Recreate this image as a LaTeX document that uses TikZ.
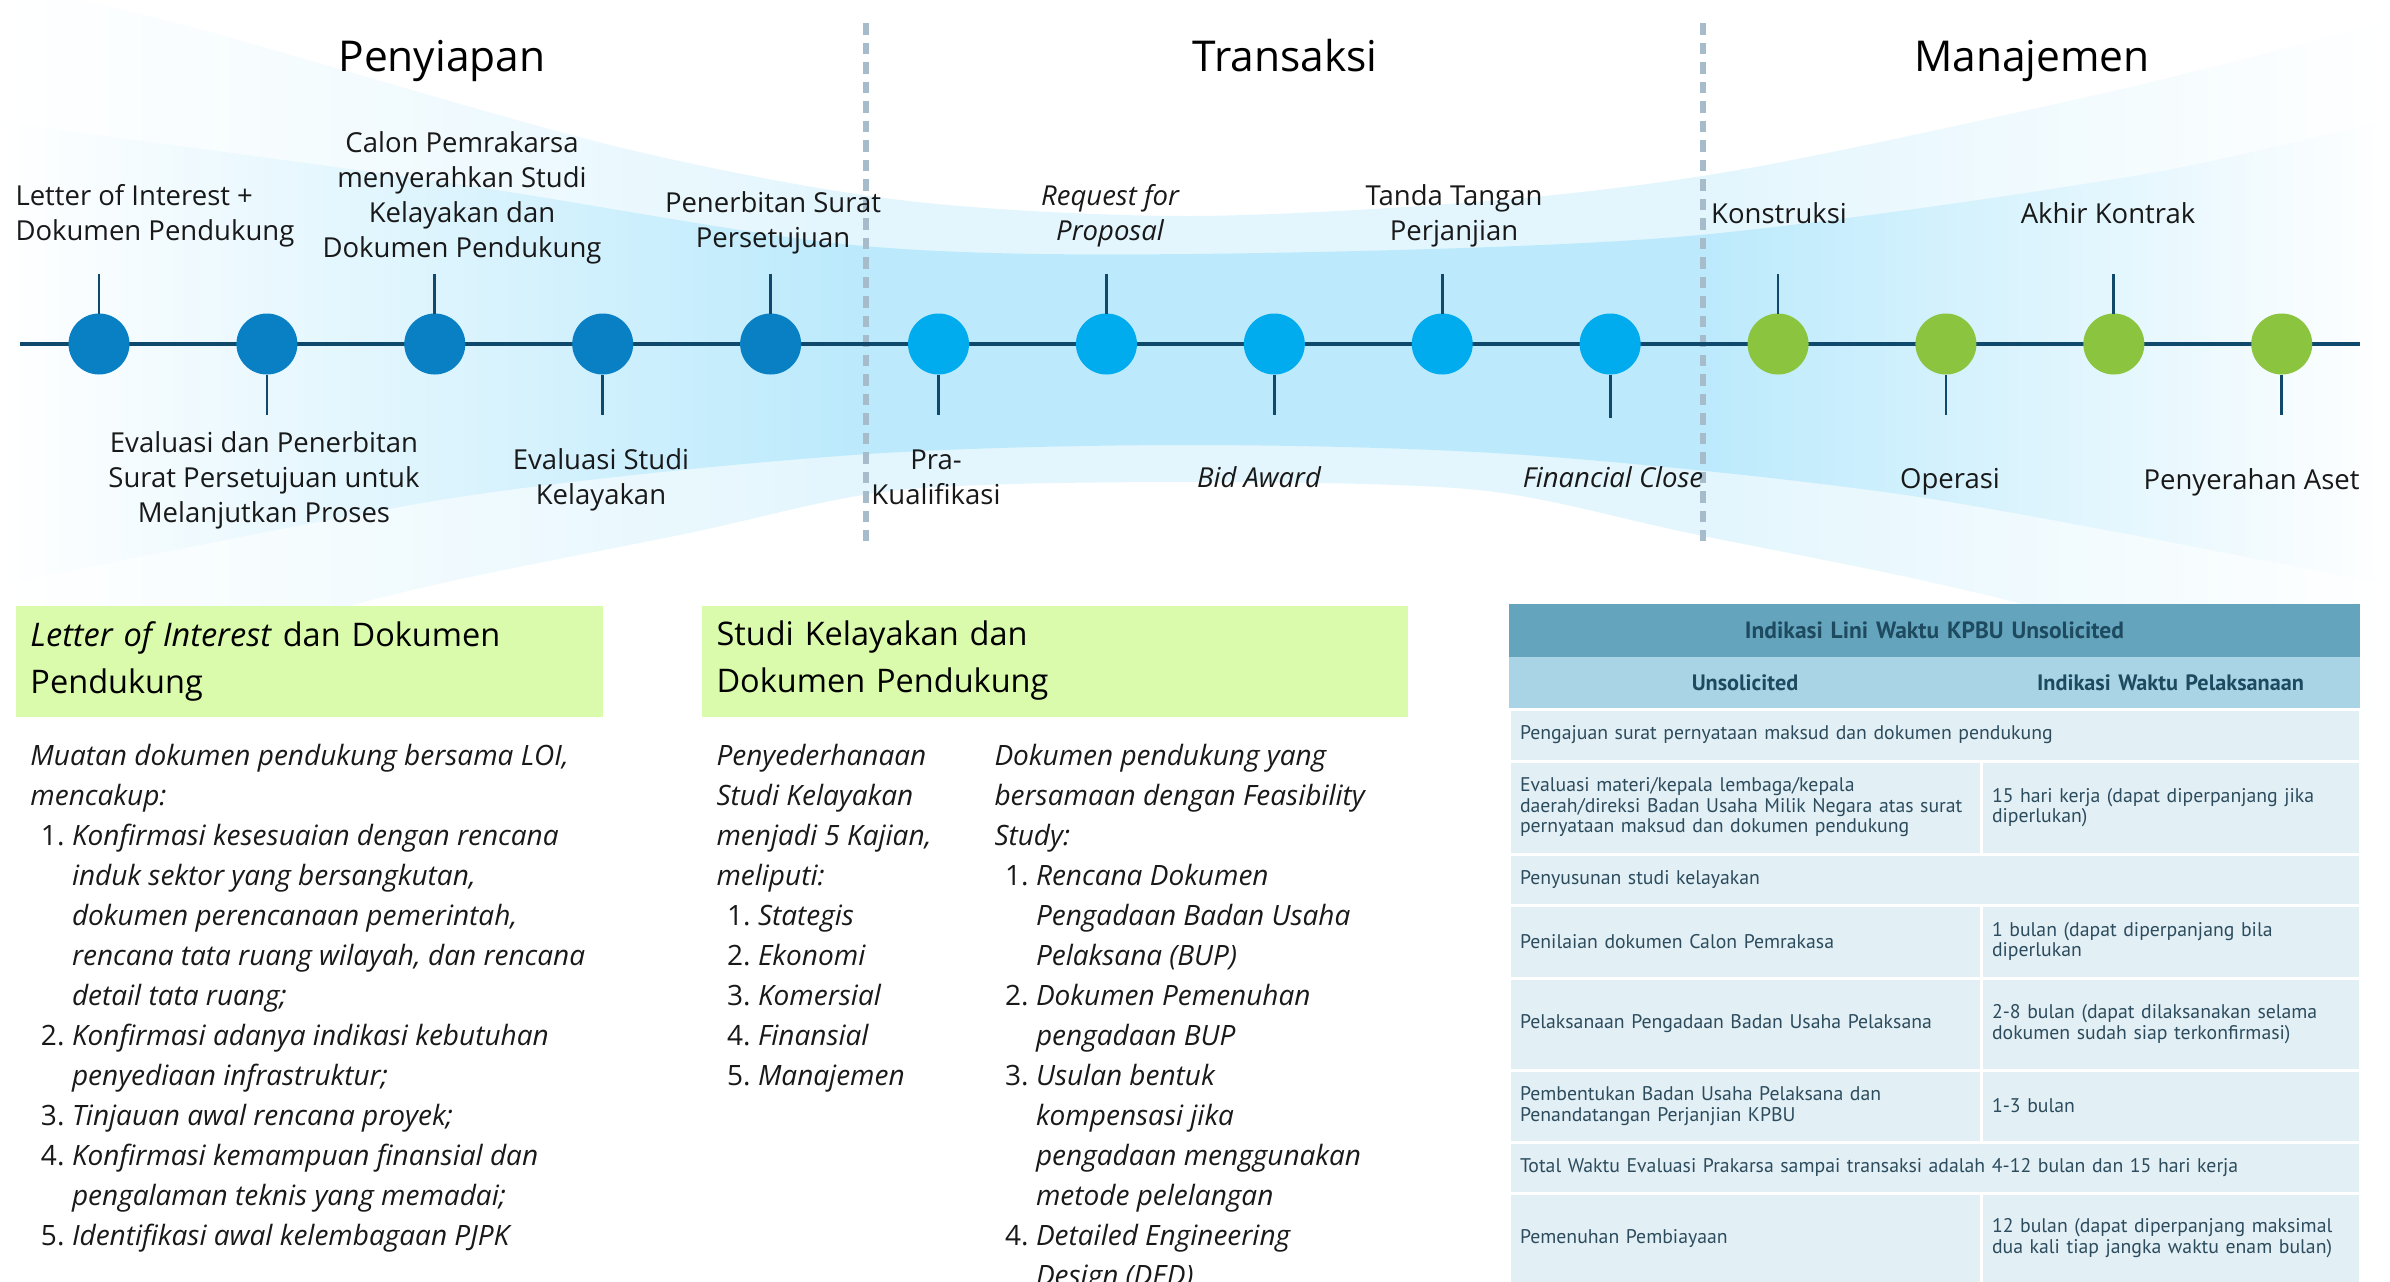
\documentclass[tikz,border=0pt]{standalone}
\usepackage{fontspec}
\setmainfont{Open Sans}
\newfontfamily\tabfont{PT Sans}
\usetikzlibrary{positioning}

\definecolor{tlnavy}{HTML}{0F4A6D}
\definecolor{prepblue}{HTML}{0A80C4}
\definecolor{transblue}{HTML}{00ACEE}
\definecolor{mgmtgreen}{HTML}{8BC53F}
\definecolor{dashgrey}{HTML}{A6BCCB}
\definecolor{bandblue}{HTML}{BCEAFC}
\definecolor{bandpale}{HTML}{E3F6FD}
\definecolor{headgreen}{HTML}{D9FBAB}
\definecolor{tabtitle}{HTML}{65A4BD}
\definecolor{tabhead}{HTML}{A8D4E6}
\definecolor{tabrow}{HTML}{E2EFF5}
\definecolor{tabtext}{HTML}{2C4C5D}
\definecolor{tabdark}{HTML}{1D4A5F}

\pgfdeclarehorizontalshading{bandin}{100bp}{color(0bp)=(white); color(25bp)=(white); color(42.8bp)=(bandblue); color(60.7bp)=(bandblue); color(75bp)=(white); color(100bp)=(white)}
\pgfdeclarehorizontalshading{bandout}{100bp}{color(0bp)=(white); color(25bp)=(white); color(42.8bp)=(bandpale); color(60.7bp)=(bandpale); color(75bp)=(white); color(100bp)=(white)}

\newcommand{\lnum}[1]{\makebox[16.6pt][l]{\hspace{4.2pt}\upshape #1}}

\tikzset{
  mstone/.style = {circle, inner sep=0pt, outer sep=0pt, minimum size=24.4pt},
  msprep/.style = {mstone, fill=prepblue},
  mstrans/.style = {mstone, fill=transblue},
  msmgmt/.style = {mstone, fill=mgmtgreen},
  tline/.style = {draw=tlnavy, line width=1.6pt},
  stem/.style = {draw=tlnavy, line width=1.1pt},
  phase/.style = {inner sep=0pt, anchor=base, font=\fontsize{17}{20}\selectfont},
  lbl/.style = {align=center, inner sep=0pt, text=black!90, font=\fontsize{11}{14}\selectfont},
  divider/.style = {draw=dashgrey, line width=2.4pt, dash pattern=on 4.6pt off 3.2pt},
  hdbox/.style = {anchor=north west, fill=headgreen, minimum height=44.4pt, inner xsep=6pt, inner ysep=0pt, align=left, font=\fontsize{13}{18.8}\selectfont},
  bodytxt/.style = {anchor=north west, inner sep=0pt, align=left, text=black!90, font=\fontsize{11.2}{16}\selectfont\itshape},
  tabbase/.style = {anchor=north west, outer sep=0pt, inner xsep=4.4pt, inner ysep=0pt, font=\tabfont\fontsize{7.9}{8.2}\selectfont, text=tabtext},
  ttitle/.style = {tabbase, fill=tabtitle, text width=331.6pt, align=center, minimum height=21.2pt, font=\tabfont\bfseries\fontsize{9.4}{10}\selectfont, text=tabdark},
  thead/.style = {tabbase, fill=tabhead, align=center, minimum height=20.8pt, font=\tabfont\bfseries\fontsize{8.9}{10}\selectfont, text=tabdark},
  tcell/.style = {tabbase, fill=tabrow, draw=white, line width=1.2pt, align=left},
  tleft/.style = {tcell, text width=180pt},
  tright/.style = {tcell, text width=142.8pt},
  tspan/.style = {tcell, text width=331.6pt},
}

\begin{document}
\begin{tikzpicture}[x=0.4pt, y=-0.4pt, node distance=42.76pt]
\path[use as bounding box, fill=white] (0,0) rectangle (2390,1281);

% hourglass band behind the timeline
\begin{scope}
\clip (0,0) rectangle (2390,1281);
\shade[shading=bandout] plot[smooth] coordinates {(0,-15) (184,25) (610,145) (900,200) (1189,216) (1500,200) (1750,168) (2122,89) (2390,21)}
  -- plot[smooth] coordinates {(2390,720) (2018,603) (1689,533) (1478,490) (1189,482) (900,490) (689,533) (360,603) (0,720)} -- cycle;
\shade[shading=bandin] plot[smooth] coordinates {(0,122) (457,184) (853,245) (1189,254) (1677,237) (2134,176) (2390,119)}
  -- plot[smooth] coordinates {(2390,585) (1919,497) (1525,455) (1189,445) (853,455) (459,497) (0,585)} -- cycle;
\end{scope}

% phase dividers and titles
\coordinate (d1a) at (866,23);
\coordinate (d1b) at (866,541);
\coordinate (d2a) at (1703,23);
\coordinate (d2b) at (1703,541);
\draw[divider] (d1a) -- (d1b);
\draw[divider] (d2a) -- (d2b);
\node[phase] (ph1) at (442,71) {Penyiapan};
\node[phase] (ph2) at (1285,71) {Transaksi};
\node[phase] (ph3) at (2032,71) {Manajemen};

% timeline
\coordinate (tl0) at (20,344);
\coordinate (tl1) at (2360,344);
\draw[tline] (tl0) -- (tl1);

\node[msprep] (m1) at (99,344) {};
\node[msprep, right=of m1] (m2) {};
\node[msprep, right=of m2] (m3) {};
\node[msprep, right=of m3] (m4) {};
\node[msprep, right=of m4] (m5) {};
\node[mstrans, right=of m5] (m6) {};
\node[mstrans, right=of m6] (m7) {};
\node[mstrans, right=of m7] (m8) {};
\node[mstrans, right=of m8] (m9) {};
\node[mstrans, right=of m9] (m10) {};
\node[msmgmt, right=of m10] (m11) {};
\node[msmgmt, right=of m11] (m12) {};
\node[msmgmt, right=of m12] (m13) {};
\node[msmgmt, right=of m13] (m14) {};

\coordinate[above=16pt of m1] (s1);
\coordinate[below=16pt of m2] (s2);
\coordinate[above=16pt of m3] (s3);
\coordinate[below=16pt of m4] (s4);
\coordinate[above=16pt of m5] (s5);
\coordinate[below=16pt of m6] (s6);
\coordinate[above=16pt of m7] (s7);
\coordinate[below=16pt of m8] (s8);
\coordinate[above=16pt of m9] (s9);
\coordinate[below=17.5pt of m10] (s10);
\coordinate[above=16pt of m11] (s11);
\coordinate[below=16pt of m12] (s12);
\coordinate[above=16pt of m13] (s13);
\coordinate[below=16pt of m14] (s14);
\draw[stem] (m1) -- (s1);
\draw[stem] (m2) -- (s2);
\draw[stem] (m3) -- (s3);
\draw[stem] (m4) -- (s4);
\draw[stem] (m5) -- (s5);
\draw[stem] (m6) -- (s6);
\draw[stem] (m7) -- (s7);
\draw[stem] (m8) -- (s8);
\draw[stem] (m9) -- (s9);
\draw[stem] (m10) -- (s10);
\draw[stem] (m11) -- (s11);
\draw[stem] (m12) -- (s12);
\draw[stem] (m13) -- (s13);
\draw[stem] (m14) -- (s14);

\node[lbl, anchor=west, align=left] (l1) at (15,216) {Letter of Interest +\\Dokumen Pendukung};
\node[lbl] (l2) at (264,480) {Evaluasi dan Penerbitan\\Surat Persetujuan untuk\\Melanjutkan Proses};
\node[lbl] (l3) at (462,198) {Calon Pemrakarsa\\menyerahkan Studi\\Kelayakan dan\\Dokumen Pendukung};
\node[lbl] (l4) at (601,480) {Evaluasi Studi\\Kelayakan};
\node[lbl] (l5) at (773,223) {Penerbitan Surat\\Persetujuan};
\node[lbl] (l6) at (936,477) {Pra-\\Kualifikasi};
\node[lbl, font=\fontsize{11}{14}\selectfont\itshape] (l7) at (1110,216) {Request for\\Proposal};
\node[lbl, font=\fontsize{11}{14}\selectfont\itshape] (l8) at (1259,477) {Bid Award};
\node[lbl] (l9) at (1454,216) {Tanda Tangan\\Perjanjian};
\node[lbl, font=\fontsize{11}{14}\selectfont\itshape] (l10) at (1613,477) {Financial Close};
\node[lbl] (l11) at (1779,213) {Konstruksi};
\node[lbl] (l12) at (1950,482) {Operasi};
\node[lbl] (l13) at (2108,213) {Akhir Kontrak};
\node[lbl, anchor=east] (l14) at (2360,482) {Penyerahan Aset};

% lower panels
\node[hdbox, text width=222.8pt] (h1) at (15,605) {\textit{Letter of Interest} dan Dokumen\\Pendukung};
\node[hdbox, text width=270.4pt] (h2) at (701,605) {Studi Kelayakan dan\\Dokumen Pendukung};

\node[bodytxt] (b1) at (30,744) {Muatan dokumen pendukung bersama LOI,\\
  mencakup:\\
  \lnum{1.}Konfirmasi kesesuaian dengan rencana\\
  \lnum{}induk sektor yang bersangkutan,\\
  \lnum{}dokumen perencanaan pemerintah,\\
  \lnum{}rencana tata ruang wilayah, dan rencana\\
  \lnum{}detail tata ruang;\\
  \lnum{2.}Konfirmasi adanya indikasi kebutuhan\\
  \lnum{}penyediaan infrastruktur;\\
  \lnum{3.}Tinjauan awal rencana proyek;\\
  \lnum{4.}Konfirmasi kemampuan finansial dan\\
  \lnum{}pengalaman teknis yang memadai;\\
  \lnum{5.}Identifikasi awal kelembagaan PJPK};
\node[bodytxt] (b2) at (716,744) {Penyederhanaan\\
  Studi Kelayakan\\
  menjadi 5 Kajian,\\
  meliputi:\\
  \lnum{1.}Stategis\\
  \lnum{2.}Ekonomi\\
  \lnum{3.}Komersial\\
  \lnum{4.}Finansial\\
  \lnum{5.}Manajemen};
\node[bodytxt] (b3) at (994,744) {Dokumen pendukung yang\\
  bersamaan dengan Feasibility\\
  Study:\\
  \lnum{1.}Rencana Dokumen\\
  \lnum{}Pengadaan Badan Usaha\\
  \lnum{}Pelaksana (BUP)\\
  \lnum{2.}Dokumen Pemenuhan\\
  \lnum{}pengadaan BUP\\
  \lnum{3.}Usulan bentuk\\
  \lnum{}kompensasi jika\\
  \lnum{}pengadaan menggunakan\\
  \lnum{}metode pelelangan\\
  \lnum{4.}Detailed Engineering\\
  \lnum{}Design (DED)};

% timeline table
\node[ttitle] (tt) at (1509,604) {Indikasi Lini Waktu KPBU Unsolicited};
\node[thead, text width=180pt] (th1) at (tt.south west) {Unsolicited};
\node[thead, text width=142.8pt] (th2) at (th1.north east) {Indikasi Waktu Pelaksanaan};
\node[tspan, minimum height=20.8pt] (r1) at (th1.south west) {Pengajuan surat pernyataan maksud dan dokumen pendukung};
\node[tleft, minimum height=37.2pt] (r2a) at (r1.south west) {Evaluasi materi/kepala lembaga/kepala\\daerah/direksi Badan Usaha Milik Negara atas surat\\pernyataan maksud dan dokumen pendukung};
\node[tright, minimum height=37.2pt] (r2b) at (r2a.north east) {15 hari kerja (dapat diperpanjang jika\\diperlukan)};
\node[tspan, minimum height=20.4pt] (r3) at (r2a.south west) {Penyusunan studi kelayakan};
\node[tleft, minimum height=29.2pt] (r4a) at (r3.south west) {Penilaian dokumen Calon Pemrakasa};
\node[tright, minimum height=29.2pt] (r4b) at (r4a.north east) {1 bulan (dapat diperpanjang bila\\diperlukan};
\node[tleft, minimum height=36.8pt] (r5a) at (r4a.south west) {Pelaksanaan Pengadaan Badan Usaha Pelaksana};
\node[tright, minimum height=36.8pt] (r5b) at (r5a.north east) {2-8 bulan (dapat dilaksanakan selama\\dokumen sudah siap terkonfirmasi)};
\node[tleft, minimum height=28.8pt] (r6a) at (r5a.south west) {Pembentukan Badan Usaha Pelaksana dan\\Penandatangan Perjanjian KPBU};
\node[tright, minimum height=28.8pt] (r6b) at (r6a.north east) {1-3 bulan};
\node[tspan, minimum height=20.4pt] (r7) at (r6a.south west) {Total Waktu Evaluasi Prakarsa sampai transaksi adalah 4-12 bulan dan 15 hari kerja};
\node[tleft, minimum height=36pt] (r8a) at (r7.south west) {Pemenuhan Pembiayaan};
\node[tright, minimum height=36pt] (r8b) at (r8a.north east) {12 bulan (dapat diperpanjang maksimal\\dua kali tiap jangka waktu enam bulan)};
\end{tikzpicture}
\end{document}
